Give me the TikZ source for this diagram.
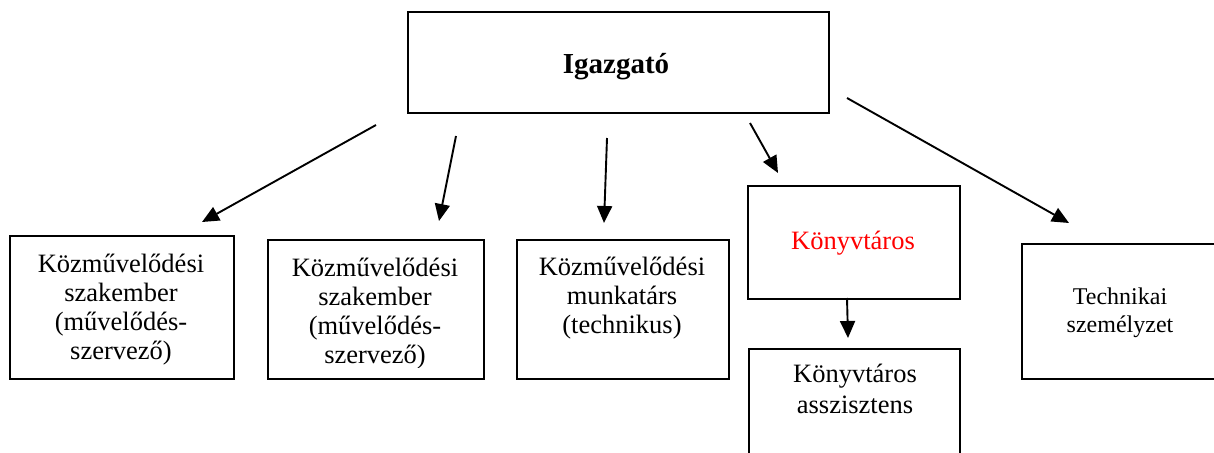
\documentclass[tikz,border=0pt]{standalone}
\usepackage{fontspec}
\setmainfont{Liberation Serif}
\usetikzlibrary{arrows.meta}
\begin{document}
\begin{tikzpicture}[x=1pt,y=-1pt,
  box/.style={draw=black,line width=2pt,inner sep=0pt,anchor=north west},
  txt/.style={inner sep=0pt,align=center,anchor=base,font=\fontsize{26.5}{29}\selectfont},
  conn/.style={line width=1.9pt,-{Triangle[length=17pt,width=15pt]}}]
\useasboundingbox (0,0) rectangle (1214,452);
% boxes
\node[box,minimum width=421pt,minimum height=101pt] (ig) at (407,11) {};
\node[box,minimum width=224pt,minimum height=143pt] (b1) at (9,235) {};
\node[box,minimum width=216pt,minimum height=139pt] (b2) at (267,239) {};
\node[box,minimum width=212pt,minimum height=139pt] (b3) at (516,239) {};
\node[box,minimum width=212pt,minimum height=113pt] (kt) at (747,185) {};
\node[box,minimum width=211pt,minimum height=110pt] (ka) at (748,348) {};
\node[box,minimum width=200pt,minimum height=135pt] (te) at (1021,243) {};
% texts (anchor = baseline of the last line)
\node[txt,font=\fontsize{29}{33}\selectfont\bfseries] (tig) at (616,74) {Igazgató};
\node[txt] (t1) at (121,359) {Közművelődési\\szakember\\(művelődés-\\szervező)};
\begin{scope}
  \clip (268,240) rectangle (482,367);
  \node[txt] (t2) at (375,363) {Közművelődési\\szakember\\(művelődés-\\szervező)};
\end{scope}
\node[txt] (t3) at (622,333) {Közművelődési\\munkatárs\\(technikus)};
\node[txt,text=red] (tkt) at (853,249) {Könyvtáros};
\node[txt,font=\fontsize{26.5}{31}\selectfont] (tka) at (855,413) {Könyvtáros\\asszisztens};
\node[txt,font=\fontsize{24}{28}\selectfont] (tte) at (1120,332) {Technikai\\személyzet};
% connector ends
\coordinate (s1) at (376,125); \coordinate (e1) at (202,222);
\coordinate (s2) at (456,136); \coordinate (e2) at (439,221);
\coordinate (s3) at (607,138); \coordinate (e3) at (604,223);
\coordinate (s4) at (750,123); \coordinate (e4) at (778,173);
\coordinate (s5) at (847,98);  \coordinate (e5) at (1069,223);
\coordinate (s6) at (847,298); \coordinate (e6) at (848,338);
\draw[conn] (s1) -- (e1);
\draw[conn] (s2) -- (e2);
\draw[conn] (s3) -- (e3);
\draw[conn] (s4) -- (e4);
\draw[conn] (s5) -- (e5);
\draw[conn] (s6) -- (e6);
\end{tikzpicture}
\end{document}
